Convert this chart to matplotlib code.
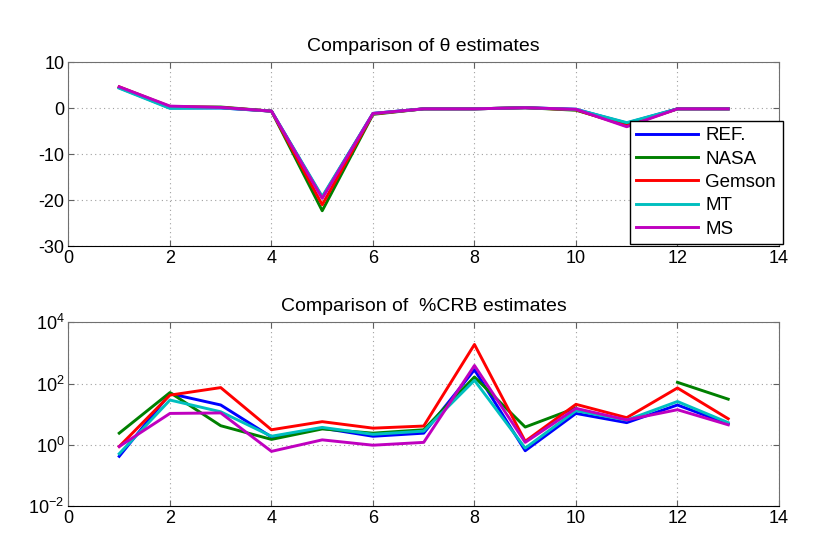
import numpy as np
import matplotlib
matplotlib.use('Agg')
import matplotlib.pyplot as plt
from matplotlib.ticker import FixedLocator, FixedFormatter, NullLocator

plt.rcParams['font.family'] = ['Liberation Sans', 'DejaVu Sans']
plt.rcParams['mathtext.default'] = 'regular'
plt.rcParams['axes.unicode_minus'] = False

x = np.arange(1, 14)
names = ['REF.', 'NASA', 'Gemson', 'MT', 'MS']
colors = ['#0000ff', '#008000', '#ff0000', '#00bfbf', '#bf00bf']

# theta estimates
theta_ref = [4.5, 0.1, 0.1, -0.6, -19.4, -1.1, -0.1, -0.1, 0.15, -0.2, -3.2, -0.1, -0.1]
theta_nasa = [4.6, 0.3, 0.3, -0.6, -22.3, -1.3, -0.1, -0.1, 0.15, -0.4, -3.6, -0.1, -0.1]
theta_gemson = [4.7, 0.4, 0.2, -0.6, -21.0, -1.2, -0.1, -0.1, 0.15, -0.3, -3.8, -0.1, -0.1]
theta_mt = [4.4, 0.0, 0.1, -0.6, -19.2, -1.1, -0.1, -0.1, 0.15, -0.2, -3.1, -0.1, -0.1]
theta_ms = [4.7, 0.5, 0.2, -0.6, -19.6, -1.1, -0.1, -0.1, 0.15, -0.2, -4.0, -0.1, -0.1]

# %CRB estimates
crb_ref = [0.42, 47, 20, 1.8, 3.5, 1.9, 2.4, 283, 0.64, 10.6, 5.3, 20, 4.8]
crb_nasa = [2.4, 51, 4.2, 1.5, 3.3, 2.4, 3.1, 165, 3.8, 16, np.nan, 110, 31]
crb_gemson = [0.88, 42, 74, 3.1, 5.7, 3.5, 4.1, 1900, 1.3, 21, 7.7, 72, 7.1]
crb_mt = [0.51, 29, 12, 1.9, 3.7, 2.2, 2.8, 128, 0.78, 13, 6.4, 26, 5.3]
crb_ms = [0.88, 10.6, 11, 0.61, 1.45, 0.97, 1.2, 390, 1.2, 15.5, 6.5, 14, 4.5]

theta = [theta_ref, theta_nasa, theta_gemson, theta_mt, theta_ms]
crb = [crb_ref, crb_nasa, crb_gemson, crb_mt, crb_ms]

fig = plt.figure(figsize=(8.3, 5.53), dpi=100)
ax1 = fig.add_axes([0.0825, 0.555, 0.856, 0.332])
ax2 = fig.add_axes([0.0825, 0.085, 0.856, 0.332])

fs = 13
title_fs = 14


def style(ax):
    ax.set_xlim(0, 14)
    ax.set_xticks(range(0, 15, 2))
    ax.grid(True, linestyle=(0, (1, 3)), color='#a0a0a0', linewidth=0.8)
    ax.tick_params(direction='in', top=True, right=True, labelsize=fs, length=4,
                   color='#606060', pad=3)
    for s in ['top', 'left', 'right']:
        ax.spines[s].set_color('#707070')
    ax.spines['bottom'].set_color('black')


for vals, c, n in zip(theta, colors, names):
    ax1.plot(x, vals, color=c, linewidth=2.1, label=n)
ax1.set_ylim(-30, 10)
ax1.set_yticks([-30, -20, -10, 0, 10])
style(ax1)
ax1.set_title('Comparison of θ estimates', fontsize=title_fs, pad=8.5)
leg = ax1.legend(loc='lower right', bbox_to_anchor=(1.008, 0.0), fontsize=13.5,
                 frameon=True, fancybox=False, edgecolor='black', framealpha=1,
                 handlelength=3.3, handletextpad=0.4, labelspacing=0.33,
                 borderpad=0.35, borderaxespad=0.1)
leg.get_frame().set_linewidth(1.0)

for vals, c, n in zip(crb, colors, names):
    ax2.plot(x, vals, color=c, linewidth=2.1, label=n)
ax2.set_yscale('log')
ax2.set_ylim(1e-2, 1e4)
ax2.yaxis.set_major_locator(FixedLocator([1e-2, 1e0, 1e2, 1e4]))
ax2.yaxis.set_major_formatter(FixedFormatter(['$10^{-2}$', '$10^{0}$', '$10^{2}$', '$10^{4}$']))
ax2.yaxis.set_minor_locator(NullLocator())
style(ax2)
ax2.set_title('Comparison of  %CRB estimates', fontsize=title_fs, pad=8.5)

fig.savefig('out.png', dpi=100)
